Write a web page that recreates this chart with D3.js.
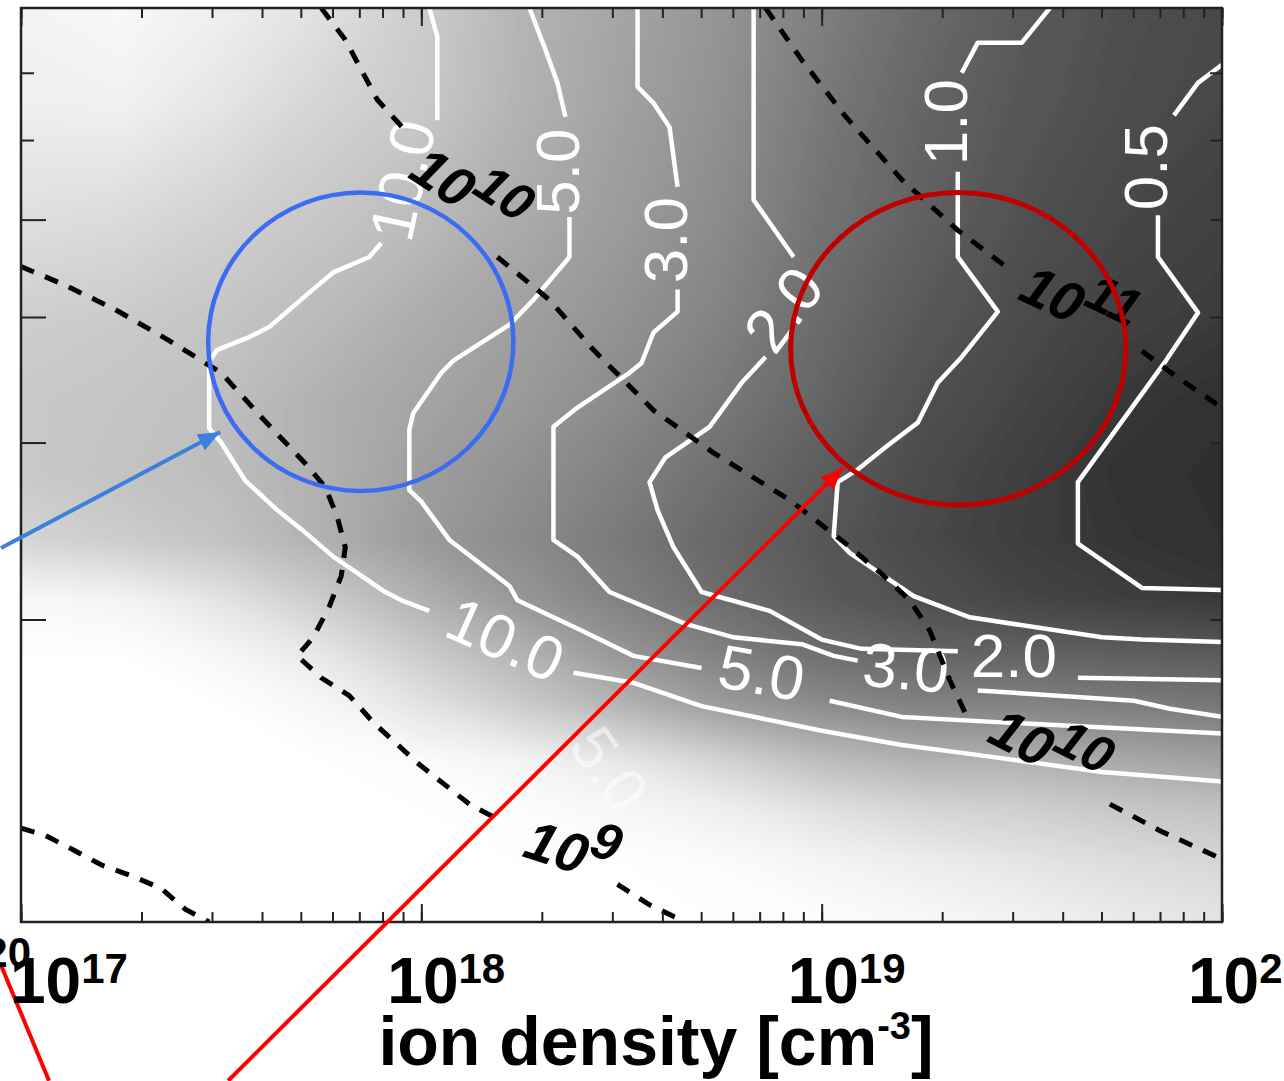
<!DOCTYPE html>
<html>
<head>
<meta charset="utf-8">
<script src="https://cdn.jsdelivr.net/npm/d3@7"></script>
<style>
  body { margin: 0; background: #fff; overflow: hidden; }
  svg { display: block; }
</style>
</head>
<body>
<script>
// x values are log10 of ion density [cm^-3]; y values are read on the log vertical axis
const densityExp = [17, 18, 19, 20];
const yTicks = [2, 3, 4, 5, 6, 7];
const yLongTicks = [2, 3, 4, 5];
const yShortTicks = [6, 7];

// background shading sampled on a coarse grid (0 = black, 255 = white)
const gridExp = [17, 17.25, 17.5, 17.75, 18, 18.25, 18.5, 18.75, 19, 19.25, 19.5, 19.75, 20];
const gridY = [8.12, 6.5, 5, 4, 3.3, 2.8, 2.4, 2.1, 1.85, 1.65, 1.45, 1.3, 1.15, 1.0];
const grayRows = [
  [245, 250, 240, 226, 206, 182, 166, 150, 128, 108, 92, 80, 74],
  [240, 242, 230, 214, 202, 180, 163, 146, 122, 102, 88, 78, 72],
  [224, 220, 210, 200, 188, 172, 157, 140, 116, 98, 82, 72, 66],
  [208, 204, 198, 188, 174, 162, 148, 132, 108, 90, 76, 66, 60],
  [202, 198, 192, 178, 166, 155, 140, 122, 102, 82, 70, 58, 50],
  [202, 196, 190, 178, 160, 146, 130, 112, 94, 76, 64, 52, 46],
  [214, 206, 196, 178, 156, 140, 122, 104, 88, 74, 63, 55, 48],
  [250, 245, 228, 205, 178, 152, 130, 110, 92, 80, 70, 63, 58],
  [255, 255, 248, 232, 205, 180, 152, 130, 112, 102, 100, 96, 92],
  [255, 255, 255, 248, 228, 204, 180, 156, 140, 130, 132, 126, 120],
  [255, 255, 255, 255, 252, 245, 232, 212, 190, 178, 178, 170, 162],
  [255, 255, 255, 255, 255, 253, 248, 240, 225, 214, 208, 200, 194],
  [255, 255, 255, 255, 255, 255, 255, 252, 246, 238, 230, 222, 216],
  [255, 255, 255, 255, 255, 255, 255, 255, 254, 250, 244, 236, 230]
];

// white contours, broken where their labels sit
const c10 = [
  [[18.02, 8.12], [18.04, 7.6], [18.04, 6.28]],
  [[17.90, 4.74], [17.87, 4.59], [17.78, 4.43], [17.72, 4.23], [17.62, 3.91], [17.57, 3.82], [17.49, 3.71], [17.47, 3.61], [17.47, 3.10], [17.50, 3.00], [17.56, 2.75], [17.64, 2.57], [17.70, 2.46], [17.78, 2.31], [17.91, 2.13], [17.95, 2.09], [18.02, 2.04]],
  [[18.38, 1.77], [18.53, 1.73], [18.70, 1.64], [19.00, 1.55], [19.20, 1.50], [19.37, 1.47], [19.70, 1.41], [20, 1.38]]
];
const c5 = [
  [[18.27, 8.12], [18.31, 7.38], [18.34, 6.84], [18.36, 6.33]],
  [[18.37, 5.03], [18.37, 4.59], [18.28, 4.16], [18.22, 3.93], [18.08, 3.62], [18.05, 3.52], [17.98, 3.21], [17.97, 3.09], [17.97, 2.69], [18.00, 2.62], [18.07, 2.40], [18.22, 2.16], [18.24, 2.09], [18.40, 1.95], [18.53, 1.84], [18.70, 1.79]],
  [[19.02, 1.66], [19.20, 1.60], [19.45, 1.58], [20, 1.54]]
];
const c3 = [
  [[18.54, 8.12], [18.54, 6.78], [18.58, 6.53], [18.62, 6.18], [18.64, 5.39]],
  [[18.64, 4.26], [18.64, 4.05], [18.58, 3.86], [18.55, 3.60], [18.52, 3.52], [18.39, 3.25], [18.33, 3.11], [18.33, 2.40], [18.39, 2.31], [18.47, 2.13], [18.66, 1.98], [18.78, 1.92], [18.95, 1.89], [19.03, 1.84], [19.09, 1.82]],
  [[19.39, 1.70], [19.78, 1.66], [19.87, 1.63], [20, 1.60]]
];
const c2 = [
  [[18.83, 8.12], [18.83, 5.23], [18.93, 4.59]],
  [[18.86, 3.65], [18.80, 3.44], [18.72, 3.11], [18.61, 2.90], [18.57, 2.74], [18.59, 2.57], [18.63, 2.36], [18.70, 2.13], [18.87, 2.04], [19.00, 1.91], [19.10, 1.87], [19.34, 1.86]],
  [[19.64, 1.75], [20, 1.74]]
];
const c1 = [
  [[19.57, 8.12], [19.50, 7.50], [19.39, 7.50], [19.35, 7.00]],
  [[19.34, 5.58], [19.34, 4.59], [19.44, 4.05], [19.35, 3.65], [19.29, 3.44], [19.24, 3.14], [19.16, 2.97], [19.09, 2.82], [19.04, 2.74], [19.03, 2.42], [19.07, 2.33], [19.23, 2.11], [19.37, 2.01], [19.70, 1.92], [19.80, 1.91], [20, 1.90]]
];
const c05 = [
  [[20, 7.13], [19.94, 6.84], [19.88, 6.35]],
  [[19.84, 5.05], [19.84, 4.59], [19.94, 4.04], [19.86, 3.62], [19.64, 2.74], [19.64, 2.38], [19.80, 2.15], [20, 2.14]]
];

// black dashed contours (10^11, 10^10, 10^9 and the unlabeled one at lower left)
const d11 = [
  [[18.86, 8.12], [18.95, 7.21], [19.06, 6.33], [19.20, 5.48], [19.34, 4.88], [19.47, 4.46]],
  [[19.80, 3.70], [19.89, 3.48], [19.99, 3.27]]
];
const d10 = [
  [[17.75, 8.12], [17.81, 7.55], [17.89, 6.58], [17.97, 6.07]],
  [[18.19, 4.59], [18.32, 4.16], [18.43, 3.71], [18.58, 3.23], [18.73, 2.93], [18.92, 2.63], [19.06, 2.38], [19.15, 2.22], [19.22, 2.09], [19.27, 1.95], [19.32, 1.74], [19.36, 1.61]],
  [[19.72, 1.31], [19.85, 1.23], [19.99, 1.16]]
];
const d9 = [
  [[17.00, 4.49], [17.10, 4.32], [17.23, 4.08], [17.37, 3.79], [17.50, 3.52], [17.61, 3.15], [17.71, 2.86], [17.76, 2.71], [17.79, 2.53], [17.81, 2.36], [17.80, 2.21], [17.77, 2.06], [17.73, 1.92], [17.69, 1.84], [17.75, 1.75], [17.82, 1.68], [17.88, 1.58], [17.99, 1.44], [18.12, 1.31], [18.20, 1.26]],
  [[18.49, 1.09], [18.57, 1.04], [18.66, 1.0]]
];
const d8 = [
  [[17.00, 1.24], [17.06, 1.22], [17.13, 1.18], [17.20, 1.14], [17.28, 1.11], [17.35, 1.08], [17.41, 1.03], [17.47, 1.00]]
];

const whiteLabels = [
  { text: "10.0", n: 17.953, v: 5.47 },
  { text: "10.0", n: 18.21, v: 1.91 },
  { text: "5.0", n: 18.34, v: 5.58 },
  { text: "5.0", n: 18.85, v: 1.77 },
  { text: "3.0", n: 18.61, v: 4.77 },
  { text: "3.0", n: 19.21, v: 1.79 },
  { text: "2.0", n: 18.905, v: 4.07 },
  { text: "2.0", n: 19.48, v: 1.84 },
  { text: "1.0", n: 19.31, v: 6.25 },
  { text: "0.5", n: 19.81, v: 5.64 },
  { text: "5.0", n: 18.47, v: 1.42 }
];
const whiteAngles = [-78, 24, -90, 10, -90, 5, -53, 0, -90, -90, 55];
const whiteOpacity = [1, 1, 1, 1, 1, 1, 1, 1, 1, 1, 0.55];

const blackLabels = [
  { base: "10", sup: "11", n: 19.648, v: 4.19 },
  { base: "10", sup: "10", n: 18.128, v: 5.41 },
  { base: "10", sup: "10", n: 19.575, v: 1.51 },
  { base: "10", sup: "9", n: 18.38, v: 1.20 }
];
const blackAngles = [25, 33, 27, 18];

// annotations: circle bounding boxes and arrows [start, tip]
const blueCircle = [[17.4675, 5.32], [18.23, 2.685]];
const redCircle = [[18.9225, 5.32], [19.76, 2.60]];
const blueArrow = [[16.95, 2.356], [17.4975, 3.073]];
const redArrow = [[17.5175, 0.695], [19.0525, 2.83]];
const redStub = [[16.95, 0.906], [17.07, 0.695]];

const W = 1284, H = 1081;
const x = d3.scaleLog().domain([1e17, 1e20]).range([21, 1222]);
const y = d3.scaleLog().domain([1, 8.12]).range([922, 8]);
const px = e => x(Math.pow(10, e));

const svg = d3.select("body").append("svg").attr("width", W).attr("height", H);
const defs = svg.append("defs");
defs.append("clipPath").attr("id", "plot").append("rect")
  .attr("x", x.range()[0]).attr("y", y.range()[1])
  .attr("width", x.range()[1] - x.range()[0]).attr("height", y.range()[0] - y.range()[1]);
defs.append("filter").attr("id", "soft")
  .append("feGaussianBlur").attr("stdDeviation", 5);

// arrow heads
[["headBlue", "#3a80dc"], ["headRed", "#ff0000"]].forEach(([id, col]) => {
  defs.append("marker").attr("id", id)
    .attr("markerUnits", "userSpaceOnUse")
    .attr("markerWidth", 24).attr("markerHeight", 20)
    .attr("refX", 22).attr("refY", 9).attr("orient", "auto")
    .append("path").attr("d", "M0,0L22,9L0,18Z").attr("fill", col);
});

// ---- shaded map via d3.contours on the gray grid
const nx = gridExp.length, ny = gridY.length;
const colX = gridExp.map(px);
const rowY = gridY.map(v => y(v));
function gridPos(arr, c) {
  const f = c - 0.5;
  const i = Math.max(0, Math.min(arr.length - 2, Math.floor(f)));
  return arr[i] + (arr[i + 1] - arr[i]) * (f - i);
}
const gridPath = d3.geoPath(d3.geoTransform({
  point(gx, gy) { this.stream.point(gridPos(colX, gx), gridPos(rowY, gy)); }
}));
const bands = d3.contours().size([nx, ny]).thresholds(d3.range(42, 256, 3))(grayRows.flat());

const plotG = svg.append("g").attr("clip-path", "url(#plot)");
const field = plotG.append("g").attr("filter", "url(#soft)");
field.selectAll("path").data(bands).join("path")
  .attr("d", gridPath)
  .attr("fill", d => d3.rgb(d.value, d.value, d.value));

// ---- white contour lines
const line = d3.line().x(d => px(d[0])).y(d => y(d[1]));
const whiteSegs = [c10, c5, c3, c2, c1, c05].flat();
plotG.append("g").selectAll("path").data(whiteSegs).join("path")
  .attr("d", line)
  .attr("fill", "none").attr("stroke", "#fff").attr("stroke-width", 4.5)
  .attr("stroke-linejoin", "round");

plotG.append("g")
  .attr("font-family", "Liberation Sans, Arial, sans-serif")
  .attr("font-size", 62).attr("fill", "#fff")
  .selectAll("text").data(whiteLabels).join("text")
  .attr("transform", (d, i) => `translate(${px(d.n)},${y(d.v)}) rotate(${whiteAngles[i]})`)
  .attr("fill-opacity", (d, i) => whiteOpacity[i])
  .attr("text-anchor", "middle").attr("dominant-baseline", "central")
  .text(d => d.text);

// ---- dashed black contours
const dashSegs = [d11, d10, d9, d8].flat();
plotG.append("g").selectAll("path").data(dashSegs).join("path")
  .attr("d", line)
  .attr("fill", "none").attr("stroke", "#000").attr("stroke-width", 5)
  .attr("stroke-dasharray", "14,12");

const bl = plotG.append("g")
  .attr("font-family", "Liberation Sans, Arial, sans-serif")
  .attr("font-style", "italic").attr("font-weight", "bold").attr("fill", "#000")
  .selectAll("text").data(blackLabels).join("text")
  .attr("transform", (d, i) => `translate(${px(d.n)},${y(d.v)}) rotate(${blackAngles[i]})`)
  .attr("text-anchor", "middle");
bl.append("tspan").attr("font-size", 56).attr("dy", 29).text(d => d.base);
bl.append("tspan").attr("font-size", 52).attr("dy", -22).text(d => d.sup);

// ---- axes (ticks point inward)
const allTicks = x.ticks();
const decades = densityExp.map(e => Math.pow(10, e));
function tickStyle(g) {
  g.select(".domain").remove();
  g.selectAll(".tick line").attr("stroke", "#222").attr("stroke-width", 2);
  g.selectAll(".tick text").remove();
}
svg.append("g").attr("transform", `translate(0,${y(1)})`)
  .call(d3.axisTop(x).tickValues(allTicks).tickSize(10).tickFormat("")).call(tickStyle);
svg.append("g").attr("transform", `translate(0,${y(1)})`)
  .call(d3.axisTop(x).tickValues(decades).tickSize(18).tickFormat("")).call(tickStyle);
svg.append("g").attr("transform", `translate(0,${y(8.12)})`)
  .call(d3.axisBottom(x).tickValues(allTicks).tickSize(10).tickFormat("")).call(tickStyle);
svg.append("g").attr("transform", `translate(0,${y(8.12)})`)
  .call(d3.axisBottom(x).tickValues(decades).tickSize(18).tickFormat("")).call(tickStyle);
svg.append("g").attr("transform", `translate(${x(1e17)},0)`)
  .call(d3.axisRight(y).tickValues(yLongTicks).tickSize(25).tickFormat("")).call(tickStyle);
svg.append("g").attr("transform", `translate(${x(1e17)},0)`)
  .call(d3.axisRight(y).tickValues(yShortTicks).tickSize(13).tickFormat("")).call(tickStyle);
svg.append("g").attr("transform", `translate(${x(1e20)},0)`)
  .call(d3.axisLeft(y).tickValues(yTicks).tickSize(12).tickFormat("")).call(tickStyle);

svg.append("rect")
  .attr("x", x(1e17)).attr("y", y(8.12))
  .attr("width", x(1e20) - x(1e17)).attr("height", y(1) - y(8.12))
  .attr("fill", "none").attr("stroke", "#222").attr("stroke-width", 2.5);

// ---- annotations
function ring(box, col, w) {
  const x0 = px(box[0][0]), x1 = px(box[1][0]), y0 = y(box[0][1]), y1 = y(box[1][1]);
  svg.append("ellipse")
    .attr("cx", (x0 + x1) / 2).attr("cy", (y0 + y1) / 2)
    .attr("rx", (x1 - x0) / 2).attr("ry", (y1 - y0) / 2)
    .attr("fill", "none").attr("stroke", col).attr("stroke-width", w);
}
ring(blueCircle, "#3b6cf2", 4.5);
ring(redCircle, "#c00000", 5);

svg.append("path").attr("d", line(blueArrow))
  .attr("stroke", "#3a80dc").attr("stroke-width", 4).attr("fill", "none")
  .attr("marker-end", "url(#headBlue)");
svg.append("path").attr("d", line(redArrow))
  .attr("stroke", "#ff0000").attr("stroke-width", 4).attr("fill", "none")
  .attr("marker-end", "url(#headRed)");
svg.append("path").attr("d", line(redStub))
  .attr("stroke", "#ff0000").attr("stroke-width", 4).attr("fill", "none");

// ---- tick labels and axis title
const lab = svg.append("g")
  .attr("font-family", "Liberation Sans, Arial, sans-serif")
  .attr("font-weight", "bold").attr("fill", "#000");

lab.append("text")
  .attr("x", x(1e17) + 10).attr("y", 967)
  .attr("text-anchor", "end").attr("font-size", 42)
  .text("20");

densityExp.forEach(e => {
  const t = lab.append("text")
    .attr("x", Math.max(px(e) - 34, 10)).attr("y", 1003)
    .attr("font-size", 64);
  t.append("tspan").text("10");
  t.append("tspan").attr("font-size", 42).attr("dy", -20).text(e);
});

const title = lab.append("text")
  .attr("x", 656).attr("y", 1065)
  .attr("text-anchor", "middle").attr("font-size", 68);
title.append("tspan").text("ion density [cm");
title.append("tspan").attr("font-size", 38).attr("dy", -26).text("-3");
title.append("tspan").attr("dy", 26).text("]");
</script>
</body>
</html>
